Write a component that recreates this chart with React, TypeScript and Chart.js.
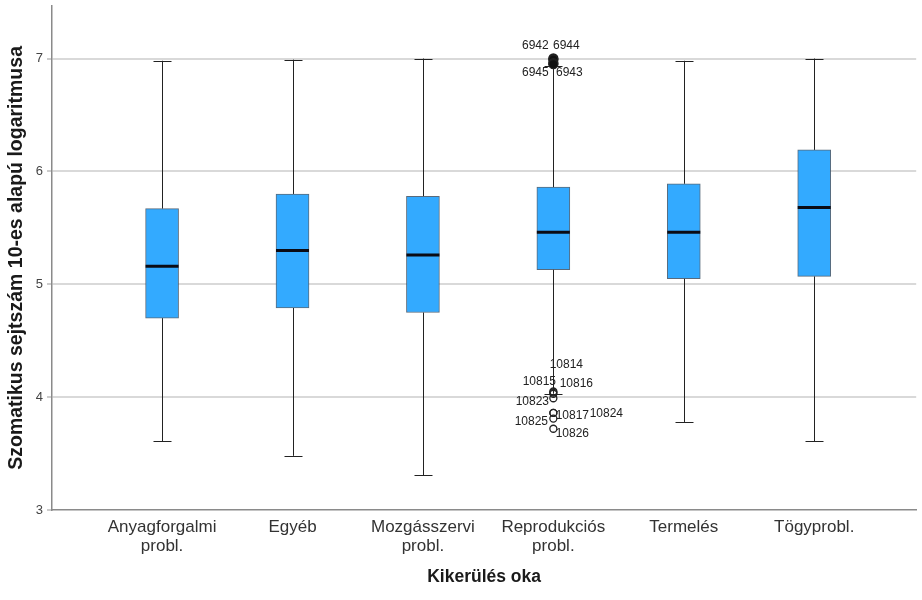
import React, { useEffect, useRef } from 'react';
import { Chart, registerables } from 'chart.js';

Chart.register(...registerables);

const categories: string[][] = [
  ['Anyagforgalmi', 'probl.'],
  ['Egyéb'],
  ['Mozgásszervi', 'probl.'],
  ['Reprodukciós', 'probl.'],
  ['Termelés'],
  ['Tögyprobl.'],
];

const whiskerLow = [3.61, 3.48, 3.31, 4.03, 3.78, 3.61];
const q1 = [4.70, 4.79, 4.75, 5.13, 5.05, 5.07];
const median = [5.16, 5.30, 5.26, 5.46, 5.46, 5.68];
const q3 = [5.67, 5.80, 5.78, 5.86, 5.89, 6.19];
const whiskerHigh = [6.98, 6.99, 7.0, 6.93, 6.98, 7.0];

const yTicks = [3, 4, 5, 6, 7];

// outliers: category index, value, case label
const outlierCategory = [3, 3, 3, 3, 3, 3, 3, 3, 3, 3, 3, 3];
const outlierValue = [7.0, 6.99, 6.96, 6.95, 4.05, 4.04, 4.03, 3.99, 3.86, 3.86, 3.81, 3.72];
const outlierLabel = ['6942', '6944', '6945', '6943', '10814', '10815', '10816', '10823', '10817', '10824', '10825', '10826'];
const outlierFilled = [true, true, true, true, false, false, false, false, false, false, false, false];
// label placement offsets in pixels from the point
const labelOffset: [number, number][] = [
  [-18, -13], [13, -14], [-18, 10], [16, 9],
  [13, -27], [-14, -11], [23, -10], [-21, 3],
  [19, 3], [53, 1], [-22, 3], [19, 5],
];

const FONT = "'Liberation Sans', Arial, sans-serif";

const boxPlugin = {
  id: 'boxExtras',
  beforeDatasetsDraw(chart: any) {
    const { ctx, scales } = chart;
    const xs = scales.x;
    const ys = scales.y;
    ctx.save();
    ctx.strokeStyle = '#222';
    ctx.lineWidth = 1;
    for (let i = 0; i < categories.length; i++) {
      const x = Math.round(xs.getPixelForValue(i)) + 0.5;
      const yl = ys.getPixelForValue(whiskerLow[i]);
      const yh = ys.getPixelForValue(whiskerHigh[i]);
      const y1 = ys.getPixelForValue(q1[i]);
      const y3 = ys.getPixelForValue(q3[i]);
      ctx.beginPath();
      ctx.moveTo(x, y3);
      ctx.lineTo(x, yh);
      ctx.moveTo(x, y1);
      ctx.lineTo(x, yl);
      ctx.moveTo(x - 9, Math.round(yh) + 0.5);
      ctx.lineTo(x + 9, Math.round(yh) + 0.5);
      ctx.moveTo(x - 9, Math.round(yl) + 0.5);
      ctx.lineTo(x + 9, Math.round(yl) + 0.5);
      ctx.stroke();
    }
    ctx.restore();
  },
  afterDatasetsDraw(chart: any) {
    const { ctx, scales } = chart;
    const xs = scales.x;
    const ys = scales.y;
    ctx.save();
    ctx.strokeStyle = '#0b0b14';
    ctx.lineWidth = 3;
    for (let i = 0; i < categories.length; i++) {
      const x = xs.getPixelForValue(i);
      const y = ys.getPixelForValue(median[i]);
      ctx.beginPath();
      ctx.moveTo(x - 16.5, y);
      ctx.lineTo(x + 16.5, y);
      ctx.stroke();
    }
    ctx.fillStyle = '#222';
    ctx.font = `12px ${FONT}`;
    ctx.textAlign = 'center';
    ctx.textBaseline = 'middle';
    for (let k = 0; k < outlierLabel.length; k++) {
      const x = xs.getPixelForValue(outlierCategory[k]);
      const y = ys.getPixelForValue(outlierValue[k]);
      ctx.fillText(outlierLabel[k], x + labelOffset[k][0], y + labelOffset[k][1]);
    }
    ctx.restore();
  },
};

export default function App() {
  const ref = useRef<HTMLCanvasElement | null>(null);

  useEffect(() => {
    if (!ref.current) return;
    const chart = new Chart(ref.current, {
      type: 'bar',
      data: {
        datasets: [
          {
            type: 'scatter',
            data: outlierValue.map((v, k) => ({ x: outlierCategory[k], y: v })),
            pointRadius: outlierFilled.map((f) => (f ? 4.5 : 3.5)),
            pointBorderWidth: 1.3,
            pointBorderColor: '#222',
            pointBackgroundColor: outlierFilled.map((f) => (f ? '#111' : 'rgba(255,255,255,0)')),
            order: 0,
          } as any,
          {
            type: 'bar',
            data: categories.map((_, i) => ({ x: i, y: [q1[i], q3[i]] })),
            backgroundColor: '#33aaff',
            borderColor: 'rgba(60,80,100,0.85)',
            borderWidth: 1,
            borderSkipped: false,
            barThickness: 33,
            order: 1,
          } as any,
        ],
      },
      options: {
        animation: false,
        responsive: false,
        maintainAspectRatio: false,
        layout: { padding: { top: 3, right: 0, left: 0, bottom: 0 } },
        plugins: {
          legend: { display: false },
          tooltip: { enabled: false },
        },
        scales: {
          x: {
            type: 'linear',
            min: -0.844,
            max: 5.782,
            offset: false,
            grid: { display: false, drawTicks: false, offset: false },
            border: { display: true, color: '#8a8a8a', width: 1.5 },
            afterBuildTicks: (scale: any) => {
              scale.ticks = categories.map((_, i) => ({ value: i }));
            },
            afterFit: (scale: any) => {
              scale.height = 90;
              scale.paddingLeft = 0;
              scale.paddingRight = 0;
            },
            ticks: {
              autoSkip: false,
              maxRotation: 0,
              padding: 8,
              color: '#333',
              font: { family: FONT, size: 17, lineHeight: 1.1 },
              callback: (v: any) => {
                const i = Math.round(Number(v));
                return categories[i] ?? '';
              },
            },
            title: {
              display: true,
              text: 'Kikerülés oka',
              color: '#1a1a1a',
              font: { family: FONT, size: 17.5, weight: 'bold' },
              padding: { top: 0, bottom: 12 },
            },
          } as any,
          y: {
            type: 'linear',
            min: 3,
            max: 7.467,
            afterBuildTicks: (scale: any) => {
              scale.ticks = yTicks.map((v) => ({ value: v }));
            },
            afterFit: (scale: any) => {
              scale.width = 52;
              scale.paddingTop = 0;
              scale.paddingBottom = 0;
            },
            grid: {
              color: (c: any) => (c.tick && c.tick.value === 3 ? 'rgba(0,0,0,0)' : '#d9d9d9'),
              lineWidth: 2,
              drawTicks: true,
              tickLength: 5,
              tickColor: '#999',
              tickWidth: 1,
            },
            border: { display: true, color: '#8a8a8a', width: 1.5 },
            ticks: {
              padding: 4,
              color: '#444',
              font: { family: FONT, size: 13 },
              callback: (v: any) => String(v),
            },
            title: {
              display: true,
              text: 'Szomatikus sejtszám 10-es alapú logaritmusa',
              color: '#1a1a1a',
              font: { family: FONT, size: 19.5, weight: 'bold' },
              padding: { top: 5, bottom: 0 },
            },
          } as any,
        },
      } as any,
      plugins: [boxPlugin],
    });
    return () => chart.destroy();
  }, []);

  return (
    <div style={{ position: 'fixed', left: 0, top: 0, width: 922, height: 600, background: '#fff' }}>
      <canvas ref={ref} width={922} height={600} style={{ width: 922, height: 600, display: 'block' }} />
    </div>
  );
}
